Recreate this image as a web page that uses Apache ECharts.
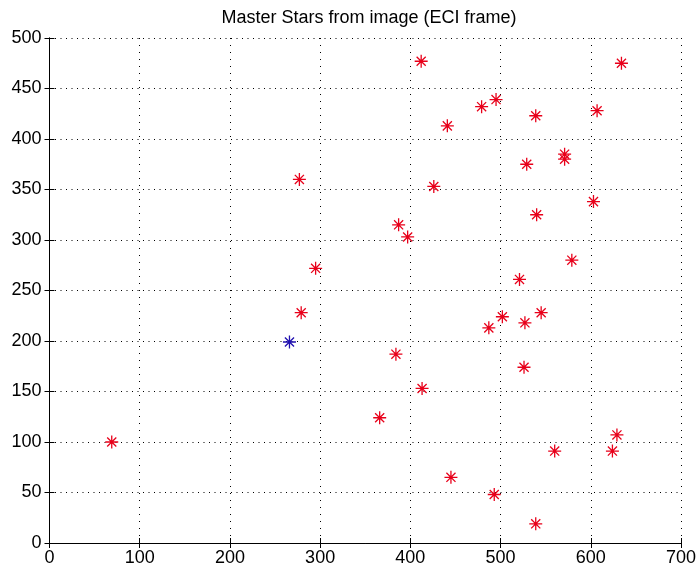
<!DOCTYPE html>
<html>
<head>
<meta charset="utf-8">
<script src="https://cdn.jsdelivr.net/npm/echarts@6/dist/echarts.min.js"></script>
<style>
  html, body { margin: 0; padding: 0; background: #fff; }
  #chart { width: 699px; height: 571px; }
</style>
</head>
<body>
<div id="chart"></div>
<script>
// Star positions (pixel coordinates in the image, ECI frame)
const starX = [412, 634, 495, 479, 607, 539, 441, 571, 571, 529, 426, 603, 540, 387, 397, 579, 521,
               277, 295, 279, 69,
               545, 502, 527, 487, 384, 526, 413, 366, 629, 560, 624, 445, 493, 539];
const starY = [477, 475, 439, 432, 428, 423, 413, 385, 380, 375, 353, 338, 325, 315, 303, 280, 261,
               360, 272, 228, 100,
               228, 224, 218, 213, 187, 174, 153, 124, 107, 91, 91, 65, 48, 19];
// Reference star
const refX = [266];
const refY = [199];

const xTicks = [0, 100, 200, 300, 400, 500, 600, 700];
const yTicks = [0, 50, 100, 150, 200, 250, 300, 350, 400, 450, 500];

const pairs = (xs, ys) => xs.map((x, i) => [x, ys[i]]);

// MATLAB-style '*' marker: horizontal, vertical and two diagonal bars plus a small core
const asterisk = 'path://M0 9L20 9L20 11L0 11Z M9 0L11 0L11 20L9 20Z ' +
  'M3.7 2.3L17.7 16.3L16.3 17.7L2.3 3.7Z M16.3 2.3L17.7 3.7L3.7 17.7L2.3 16.3Z ' +
  'M8 8L12 8L12 12L8 12Z';

const font = 'Liberation Sans, Arial, sans-serif';
const boxLine = { show: true, lineStyle: { color: '#000', width: 1 } };
const innerTick = { show: true, inside: true, length: 5, lineStyle: { color: '#000' } };
const labelStyle = { color: '#000', fontFamily: font, fontSize: 18 };

const chart = echarts.init(document.getElementById('chart'), null, { renderer: 'canvas' });
chart.setOption({
  animation: false,
  backgroundColor: '#fff',
  title: {
    text: 'Master Stars from image (ECI frame)',
    left: 364, textAlign: 'center', top: 4,
    textStyle: { fontFamily: font, fontSize: 18, fontWeight: 'normal', color: '#000' }
  },
  grid: { left: 49.5, right: 16, top: 38, bottom: 28, containLabel: false },
  xAxis: [
    {
      type: 'value', min: xTicks[0], max: xTicks[xTicks.length - 1], interval: 100,
      axisLine: boxLine, axisTick: innerTick,
      axisLabel: Object.assign({ margin: 6 }, labelStyle),
      splitLine: { show: true, lineStyle: { color: '#000', width: 1, type: [1, 6] } }
    },
    {
      type: 'value', position: 'top', min: 0, max: 700, interval: 100,
      axisLine: boxLine, axisTick: innerTick, axisLabel: { show: false },
      splitLine: { show: false }
    }
  ],
  yAxis: [
    {
      type: 'value', min: yTicks[0], max: yTicks[yTicks.length - 1], interval: 50,
      axisLine: boxLine, axisTick: innerTick,
      axisLabel: Object.assign({ margin: 8 }, labelStyle),
      splitLine: { show: true, lineStyle: { color: '#000', width: 1, type: [1, 4.5] } }
    },
    {
      type: 'value', position: 'right', min: 0, max: 500, interval: 50,
      axisLine: boxLine, axisTick: innerTick, axisLabel: { show: false },
      splitLine: { show: false }
    }
  ],
  series: [
    {
      name: 'stars', type: 'scatter', xAxisIndex: 0, yAxisIndex: 0,
      data: pairs(starX, starY),
      symbol: asterisk, symbolSize: 13,
      itemStyle: { color: '#e8001a', opacity: 1 }
    },
    {
      name: 'reference', type: 'scatter', xAxisIndex: 0, yAxisIndex: 0,
      data: pairs(refX, refY),
      symbol: asterisk, symbolSize: 13,
      itemStyle: { color: '#2010b0', opacity: 1 }
    }
  ]
});
</script>
</body>
</html>
